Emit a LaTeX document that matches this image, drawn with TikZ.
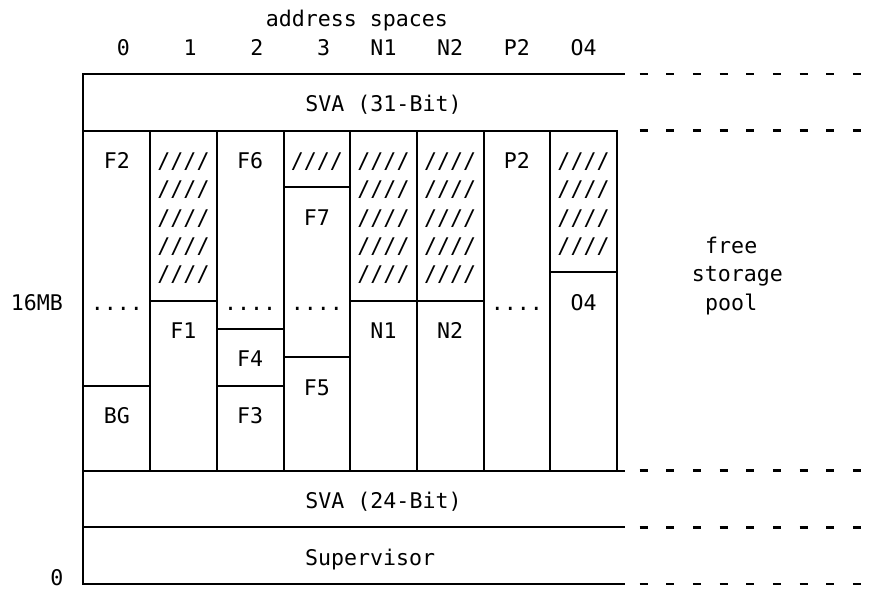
\documentclass[tikz,border=0pt]{standalone}
\usepackage{fontspec}
\usepackage{tikz}
\newfontfamily\scrfont{DejaVu Sans Mono}
\tikzset{
  rule/.style={draw=black, line width=1pt, line cap=rect},
  lvl/.style={draw=black, line width=1.2pt, dash pattern=on 4pt off 9.3333pt},
  txt/.style={font=\scrfont\fontsize{10.8}{12}\selectfont, inner sep=0pt, anchor=base},
  hatch/.style={txt},
}
\begin{document}
\begin{tikzpicture}[x=6.6667pt,y=-14.1667pt]
  \useasboundingbox (-6.2625,-2.6118) rectangle (59.2875,18.247);
  % frame
  \draw[rule] (0,0) -- (40.5,0);
  \draw[rule] (0,2) -- (40,2);
  \draw[rule] (0,14) -- (40.5,14);
  \draw[rule] (0,16) -- (40.5,16);
  \draw[rule] (0,18) -- (40.5,18);
  \draw[rule] (0,0) -- (0,18);
  \draw[rule] (5,2) -- (5,14);
  \draw[rule] (10,2) -- (10,14);
  \draw[rule] (15,2) -- (15,14);
  \draw[rule] (20,2) -- (20,14);
  \draw[rule] (25,2) -- (25,14);
  \draw[rule] (30,2) -- (30,14);
  \draw[rule] (35,2) -- (35,14);
  \draw[rule] (40,2) -- (40,14);
  % partitions
  \draw[rule] (15,4) -- (20,4);
  \draw[rule] (35,7) -- (40,7);
  \draw[rule] (5,8) -- (10,8);
  \draw[rule] (20,8) -- (30,8);
  \draw[rule] (10,9) -- (15,9);
  \draw[rule] (15,10) -- (20,10);
  \draw[rule] (0,11) -- (5,11);
  \draw[rule] (10,11) -- (15,11);
  % levels
  \draw[lvl] (41.7,0) -- (58.3,0);
  \draw[lvl] (41.7,2) -- (58.3,2);
  \draw[lvl] (41.7,14) -- (58.3,14);
  \draw[lvl] (41.7,16) -- (58.3,16);
  \draw[lvl] (41.7,18) -- (58.3,18);
  % headings
  \node[txt] (hdr) at (20.5,-1.67) {address spaces};
  \node[txt] (as0) at (3,-0.67) {0};
  \node[txt] (as1) at (8,-0.67) {1};
  \node[txt] (as2) at (13,-0.67) {2};
  \node[txt] (as3) at (18,-0.67) {3};
  \node[txt] (asn1) at (22.5,-0.67) {N1};
  \node[txt] (asn2) at (27.5,-0.67) {N2};
  \node[txt] (asp2) at (32.5,-0.67) {P2};
  \node[txt] (aso4) at (37.5,-0.67) {O4};
  \node[txt] (sva31) at (22.5,1.33) {SVA (31-Bit)};
  % row of the first frames
  \node[txt] (f2) at (2.5,3.33) {F2};
  \node[hatch] (ha1) at (7.5,3.33) {////};
  \node[hatch] (ha2) at (7.5,4.33) {////};
  \node[hatch] (ha3) at (7.5,5.33) {////};
  \node[hatch] (ha4) at (7.5,6.33) {////};
  \node[hatch] (ha5) at (7.5,7.33) {////};
  \node[txt] (f6) at (12.5,3.33) {F6};
  \node[hatch] (hb1) at (17.5,3.33) {////};
  \node[txt] (f7) at (17.5,5.33) {F7};
  \node[hatch] (hc1) at (22.5,3.33) {////};
  \node[hatch] (hc2) at (22.5,4.33) {////};
  \node[hatch] (hc3) at (22.5,5.33) {////};
  \node[hatch] (hc4) at (22.5,6.33) {////};
  \node[hatch] (hc5) at (22.5,7.33) {////};
  \node[hatch] (hd1) at (27.5,3.33) {////};
  \node[hatch] (hd2) at (27.5,4.33) {////};
  \node[hatch] (hd3) at (27.5,5.33) {////};
  \node[hatch] (hd4) at (27.5,6.33) {////};
  \node[hatch] (hd5) at (27.5,7.33) {////};
  \node[txt] (p2) at (32.5,3.33) {P2};
  \node[hatch] (he1) at (37.5,3.33) {////};
  \node[hatch] (he2) at (37.5,4.33) {////};
  \node[hatch] (he3) at (37.5,5.33) {////};
  \node[hatch] (he4) at (37.5,6.33) {////};
  % 16MB line
  \node[txt] (mb16) at (-3.5,8.33) {16MB};
  \node[txt] (dot0) at (2.5,8.33) {....};
  \node[txt] (dot2) at (12.5,8.33) {....};
  \node[txt] (dot3) at (17.5,8.33) {....};
  \node[txt] (dotp) at (32.5,8.33) {....};
  \node[txt] (o4) at (37.5,8.33) {O4};
  \node[txt] (f1) at (7.5,9.33) {F1};
  \node[txt] (n1) at (22.5,9.33) {N1};
  \node[txt] (n2) at (27.5,9.33) {N2};
  \node[txt] (f4) at (12.5,10.33) {F4};
  \node[txt] (f5) at (17.5,11.33) {F5};
  \node[txt] (bg) at (2.5,12.33) {BG};
  \node[txt] (f3) at (12.5,12.33) {F3};
  % free storage
  \node[txt, anchor=base west] (free) at (46.6,6.33) {free};
  \node[txt, anchor=base west] (stor) at (45.6,7.33) {storage};
  \node[txt, anchor=base west] (pool) at (46.6,8.33) {pool};
  % low areas
  \node[txt] (sva24) at (22.5,15.33) {SVA (24-Bit)};
  \node[txt] (sup) at (21.5,17.33) {Supervisor};
  \node[txt] (zero) at (-2,18.05) {0};
\end{tikzpicture}
\end{document}
